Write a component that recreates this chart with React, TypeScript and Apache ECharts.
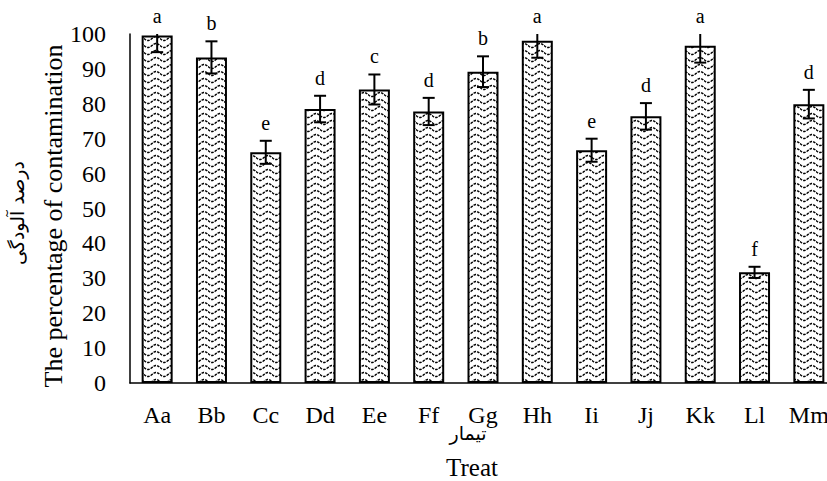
import React, { useEffect, useRef } from "react";
import * as echarts from "echarts";

const categories = ["Aa", "Bb", "Cc", "Dd", "Ee", "Ff", "Gg", "Hh", "Ii", "Jj", "Kk", "Ll", "Mm"];
const means = [99.6, 93.3, 66.1, 78.5, 84.1, 77.8, 89.2, 98.1, 66.7, 76.4, 96.6, 31.7, 79.9];
const errors = [4.8, 4.6, 3.3, 3.8, 4.3, 3.9, 4.4, 4.9, 3.3, 3.8, 4.8, 1.6, 4.1];
const letters = ["a", "b", "e", "d", "c", "d", "b", "a", "e", "d", "a", "f", "d"];
const yMin = 0;
const yMax = 100;
const yInterval = 10;

const yTitle = "The percentage of contamination";
const yTitleFa = "درصد آلودگی";
const xTitle = "Treat";
const xTitleFa = "تیمار";

const SERIF = '"Liberation Serif", "Times New Roman", serif';
const FA = '"DejaVu Sans", "Noto Sans", sans-serif';

function makePattern(): HTMLCanvasElement {
  const c = document.createElement("canvas");
  c.width = 16;
  c.height = 7;
  const ctx = c.getContext("2d")!;
  ctx.fillStyle = "#ffffff";
  ctx.fillRect(0, 0, 16, 7);
  ctx.strokeStyle = "#000000";
  ctx.lineWidth = 1.5;
  ctx.setLineDash([2.6, 1.1]);
  ctx.beginPath();
  for (let x = 0; x <= 16; x += 0.5) {
    const y = 3.5 + 2 * Math.sin((2 * Math.PI * x) / 16);
    if (x === 0) ctx.moveTo(x, y);
    else ctx.lineTo(x, y);
  }
  ctx.stroke();
  return c;
}

export default function App() {
  const ref = useRef<HTMLDivElement>(null);

  useEffect(() => {
    if (!ref.current) return;
    const chart = echarts.init(ref.current, undefined, { renderer: "svg" });
    const pattern = makePattern();

    const errData = categories.map((_, i) => [i, means[i] - errors[i], means[i] + errors[i]]);
    const letterData = categories.map((_, i) => [i, Math.min(means[i] + errors[i], yMax), letters[i]]);

    chart.setOption({
      animation: false,
      backgroundColor: "#ffffff",
      grid: {
        left: 130,
        width: 706,
        top: 34,
        bottom: 98,
        containLabel: false,
        outerBoundsMode: "none",
      },
      xAxis: {
        type: "category",
        data: categories,
        axisLine: { show: true, lineStyle: { color: "#000", width: 1.5 } },
        axisTick: { show: false },
        axisLabel: { color: "#000", fontSize: 24, fontFamily: SERIF, margin: 20, interval: 0 },
        splitLine: { show: false },
      },
      yAxis: {
        type: "value",
        min: yMin,
        max: yMax,
        interval: yInterval,
        axisLine: { show: true, lineStyle: { color: "#000", width: 1.5 } },
        axisTick: { show: false },
        axisLabel: { color: "#000", fontSize: 24, fontFamily: SERIF, margin: 24 },
        splitLine: { show: false },
      },
      series: [
        {
          type: "bar",
          data: means,
          barWidth: 31,
          itemStyle: {
            color: { image: pattern, repeat: "repeat", imageWidth: 16, imageHeight: 7 },
            borderColor: "#000",
            borderWidth: 2,
          },
          z: 2,
        },
        {
          type: "custom",
          clip: true,
          z: 3,
          data: errData,
          renderItem: (params: any, api: any) => {
            const i = api.value(0);
            const lo = api.coord([i, api.value(1)]);
            const hi = api.coord([i, api.value(2)]);
            const x = lo[0];
            const hw = 6;
            const st = { stroke: "#000", lineWidth: 2 };
            return {
              type: "group",
              children: [
                { type: "line", shape: { x1: x, y1: lo[1], x2: x, y2: hi[1] }, style: st },
                { type: "line", shape: { x1: x - hw, y1: lo[1], x2: x + hw, y2: lo[1] }, style: st },
                { type: "line", shape: { x1: x - hw, y1: hi[1], x2: x + hw, y2: hi[1] }, style: st },
              ],
            };
          },
        },
        {
          type: "custom",
          clip: false,
          z: 4,
          data: letterData,
          renderItem: (params: any, api: any) => {
            const i = api.value(0);
            const p = api.coord([i, api.value(1)]);
            return {
              type: "text",
              style: {
                text: letters[i],
                x: p[0],
                y: p[1] - 18,
                align: "center",
                verticalAlign: "middle",
                fontSize: 20,
                fontFamily: SERIF,
                fill: "#000",
              },
            };
          },
        },
      ],
      graphic: [
        {
          type: "text",
          x: 472,
          y: 467,
          style: { text: xTitle, align: "center", verticalAlign: "middle", fontSize: 25, fontFamily: SERIF, fill: "#000" },
        },
        {
          type: "text",
          x: 468,
          y: 433,
          style: { text: xTitleFa, align: "center", verticalAlign: "middle", fontSize: 19, fontFamily: FA, fill: "#000" },
        },
        {
          type: "text",
          x: 53,
          y: 216,
          rotation: Math.PI / 2,
          style: { text: yTitle, align: "center", verticalAlign: "middle", fontSize: 26, fontFamily: SERIF, fill: "#000" },
        },
        {
          type: "text",
          x: 17,
          y: 213,
          rotation: Math.PI / 2,
          style: { text: yTitleFa, align: "center", verticalAlign: "middle", fontSize: 19, fontFamily: FA, fill: "#000" },
        },
      ],
    });

    return () => chart.dispose();
  }, []);

  return (
    <div
      ref={ref}
      style={{ position: "absolute", left: 0, top: 0, width: 827, height: 481, background: "#fff" }}
    />
  );
}
